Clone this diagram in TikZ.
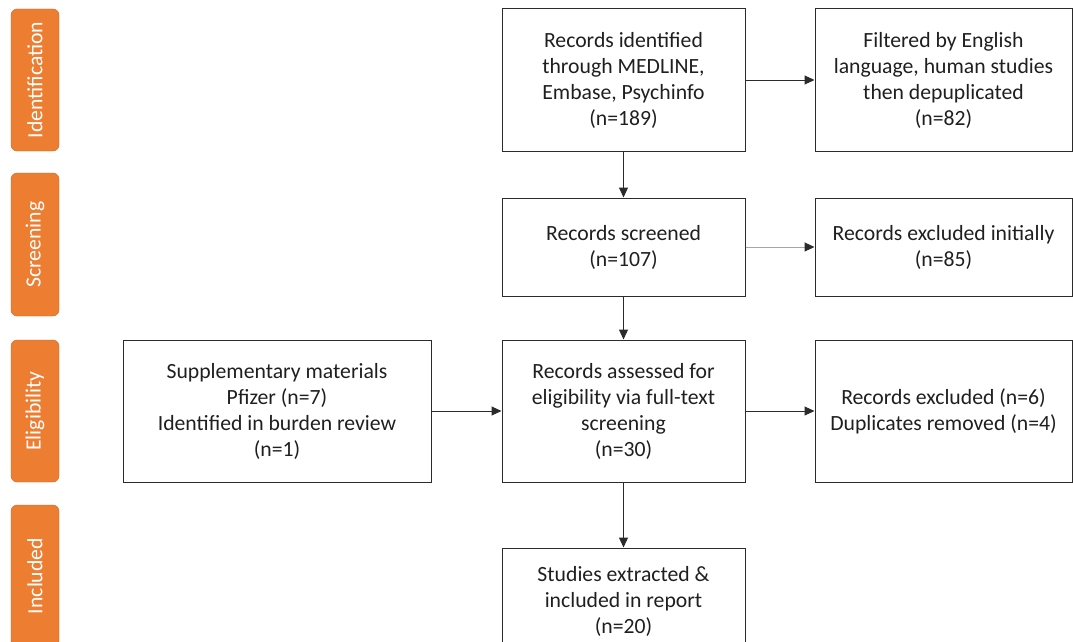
\documentclass[tikz,border=0pt]{standalone}
\usepackage{fontspec}
\setmainfont{Carlito}
\usetikzlibrary{arrows.meta}
\definecolor{taborange}{HTML}{ED7D31}
\definecolor{boxline}{HTML}{2B2B2B}
\begin{document}
\begin{tikzpicture}[x=1pt,y=1pt,
  box/.style={draw=boxline, line width=1pt, rectangle, align=center, inner sep=0pt,
    font=\fontsize{21.7}{26}\selectfont, text=black!88},
  tab/.style={fill=taborange, rounded corners=6pt, rectangle, draw=taborange!85!black, line width=0.4pt,
    minimum height=48, text=white, font=\fontsize{21.7}{24}\selectfont, rotate=90, inner sep=0pt},
  arr/.style={draw=boxline, line width=1pt, -{Triangle[length=10pt,width=9pt]}},
  arrg/.style={draw=gray!70, line width=1pt, -{Triangle[length=10pt,width=9pt,fill=boxline,color=boxline]}}]
\useasboundingbox (0,0) rectangle (1073,-642);
\clip (0,0) rectangle (1073,-642);
% tabs
\node[tab, minimum width=142] (t1) at (35,-80) {Identification};
\node[tab, minimum width=143] (t2) at (35,-244.5) {Screening};
\node[tab, minimum width=142] (t3) at (35,-411) {Eligibility};
\node[tab, minimum width=142] (t4) at (35,-576) {Included};
% boxes
\node[box, minimum width=243, minimum height=142] (id) at (623.5,-80) {Records identified\\through MEDLINE,\\Embase, Psychinfo\\(n=189)};
\node[box, minimum width=257, minimum height=142] (filt) at (943.5,-80) {Filtered by English\\language, human studies\\then depuplicated\\(n=82)};
\node[box, minimum width=243, minimum height=98] (scr) at (623.5,-247) {Records screened\\(n=107)};
\node[box, minimum width=257, minimum height=98] (exc1) at (943.5,-247) {Records excluded initially\\(n=85)};
\node[box, minimum width=308, minimum height=142] (sup) at (277,-411) {Supplementary materials\\Pfizer (n=7)\\Identified in burden review\\(n=1)};
\node[box, minimum width=243, minimum height=142] (ass) at (623.5,-411) {Records assessed for\\eligibility via full-text\\screening\\(n=30)};
\node[box, minimum width=257, minimum height=142] (exc2) at (943.5,-411) {Records excluded (n=6)\\Duplicates removed (n=4)};
\node[box, minimum width=243, minimum height=106] (inc) at (623.5,-601) {Studies extracted \&\\included in report\\(n=20)};
% arrows
\draw[arr] (id) -- (scr);
\draw[arr] (scr) -- (ass);
\draw[arr] (ass) -- (inc);
\draw[arr] (id) -- (filt);
\draw[arrg] (scr) -- (exc1);
\draw[arr] (ass) -- (exc2);
\draw[arr] (sup) -- (ass);
\end{tikzpicture}
\end{document}
